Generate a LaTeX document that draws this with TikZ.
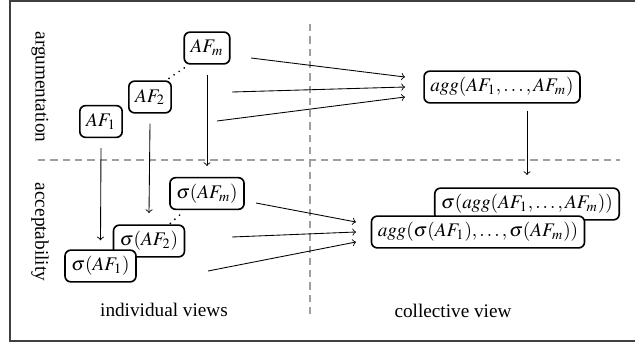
\documentclass[tikz,border=0pt]{standalone}
\usepackage{mathptmx}
\usepackage{fontspec}
\setmainfont{Liberation Serif}
\usetikzlibrary{calc}
\begin{document}
\begin{tikzpicture}[x=0.52pt,y=-0.52pt,
  box/.style={draw, line width=0.85pt, rounded corners=3pt, fill=white,
    minimum height=16.5pt, inner xsep=3.3pt, inner ysep=2pt},
  sep/.style={draw=gray!75, line width=0.65pt, dash pattern=on 3.8pt off 2.6pt},
  conn/.style={->, line width=0.45pt},
  dots/.style={line width=1pt, line cap=round, dash pattern=on 0pt off 3.2pt}]
\useasboundingbox (0,0) rectangle (635,346);

% frame
\draw[line width=0.8pt, black!75] (640,1) -| (10,341) -- (640,341);

% separators
\coordinate (hl) at (38,160);  \coordinate (hr) at (620,160);
\coordinate (vt) at (310,24);  \coordinate (vb) at (310,318);
\draw[sep] (hl) -- (hr);
\draw[sep] (vt) -- (vb);

% row / column labels
\node[rotate=-90] (lblarg) at (40,87) {argumentation};
\node[rotate=-90] (lblacc) at (40,232) {acceptability};
\node (lblind) at (164,310) {individual views};
\node (lblcol) at (453,311) {collective view};

% argumentation frameworks
\node[box] (afm) at (207,48) {$AF_m$};
\node[box] (af2) at (150,97) {$AF_2$};
\node[box] (af1) at (101,121.5) {$AF_1$};
\draw[dots] ($(af2.north east)+(-3,-2)$) coordinate (d1) -- ($(afm.south west)+(4,1)$) coordinate (d2);

% aggregated framework
\node[box] (agg) at (502,87) {$agg(AF_1,\ldots,AF_m)$};

% extensions of the individual frameworks
\node[box] (sm) at (207,193.5) {$\sigma(AF_m)$};
\node[box] (s2) at (149,241) {$\sigma(AF_2)$};
\node[box] (s1) at (100.5,266) {$\sigma(AF_1)$};
\draw[dots] ($(s2.north east)+(-15,-1)$) coordinate (d3) -- ($(sm.south west)+(15,1)$) coordinate (d4);

% collective outcomes
\node[box] (sagg) at (527,204) {$\sigma(agg(AF_1,\ldots,AF_m))$};
\node[box] (aggs) at (478,232) {$agg(\sigma(AF_1),\ldots,\sigma(AF_m))$};

% aggregation arrows (top)
\coordinate (a1) at (251,58);  \coordinate (e1) at (405,77);
\coordinate (a2) at (232,92);  \coordinate (e2) at (405,87);
\coordinate (a3) at (217,121); \coordinate (e3) at (405,97);
\draw[conn] (a1) -- (e1);
\draw[conn] (a2) -- (e2);
\draw[conn] (a3) -- (e3);

% aggregation arrows (bottom)
\coordinate (b1) at (256,203); \coordinate (f1) at (356,222);
\coordinate (b2) at (232,237); \coordinate (f2) at (356,232);
\coordinate (b3) at (208,271); \coordinate (f3) at (356,242);
\draw[conn] (b1) -- (f1);
\draw[conn] (b2) -- (f2);
\draw[conn] (b3) -- (f3);

% semantics arrows
\coordinate (t2) at (149,213);
\coordinate (tm) at (207,166);
\coordinate (ta) at (527,175);
\draw[conn] ($(af1.south)+(0,10)$) -- ($(s1.north)+(0,-9)$);
\draw[conn] ($(af2.south)+(0,10)$) -- (t2);
\draw[conn] ($(afm.south)+(0,10)$) -- (tm);
\draw[conn] ($(agg.south -| ta)+(0,7)$) -- (ta);
\end{tikzpicture}
\end{document}
